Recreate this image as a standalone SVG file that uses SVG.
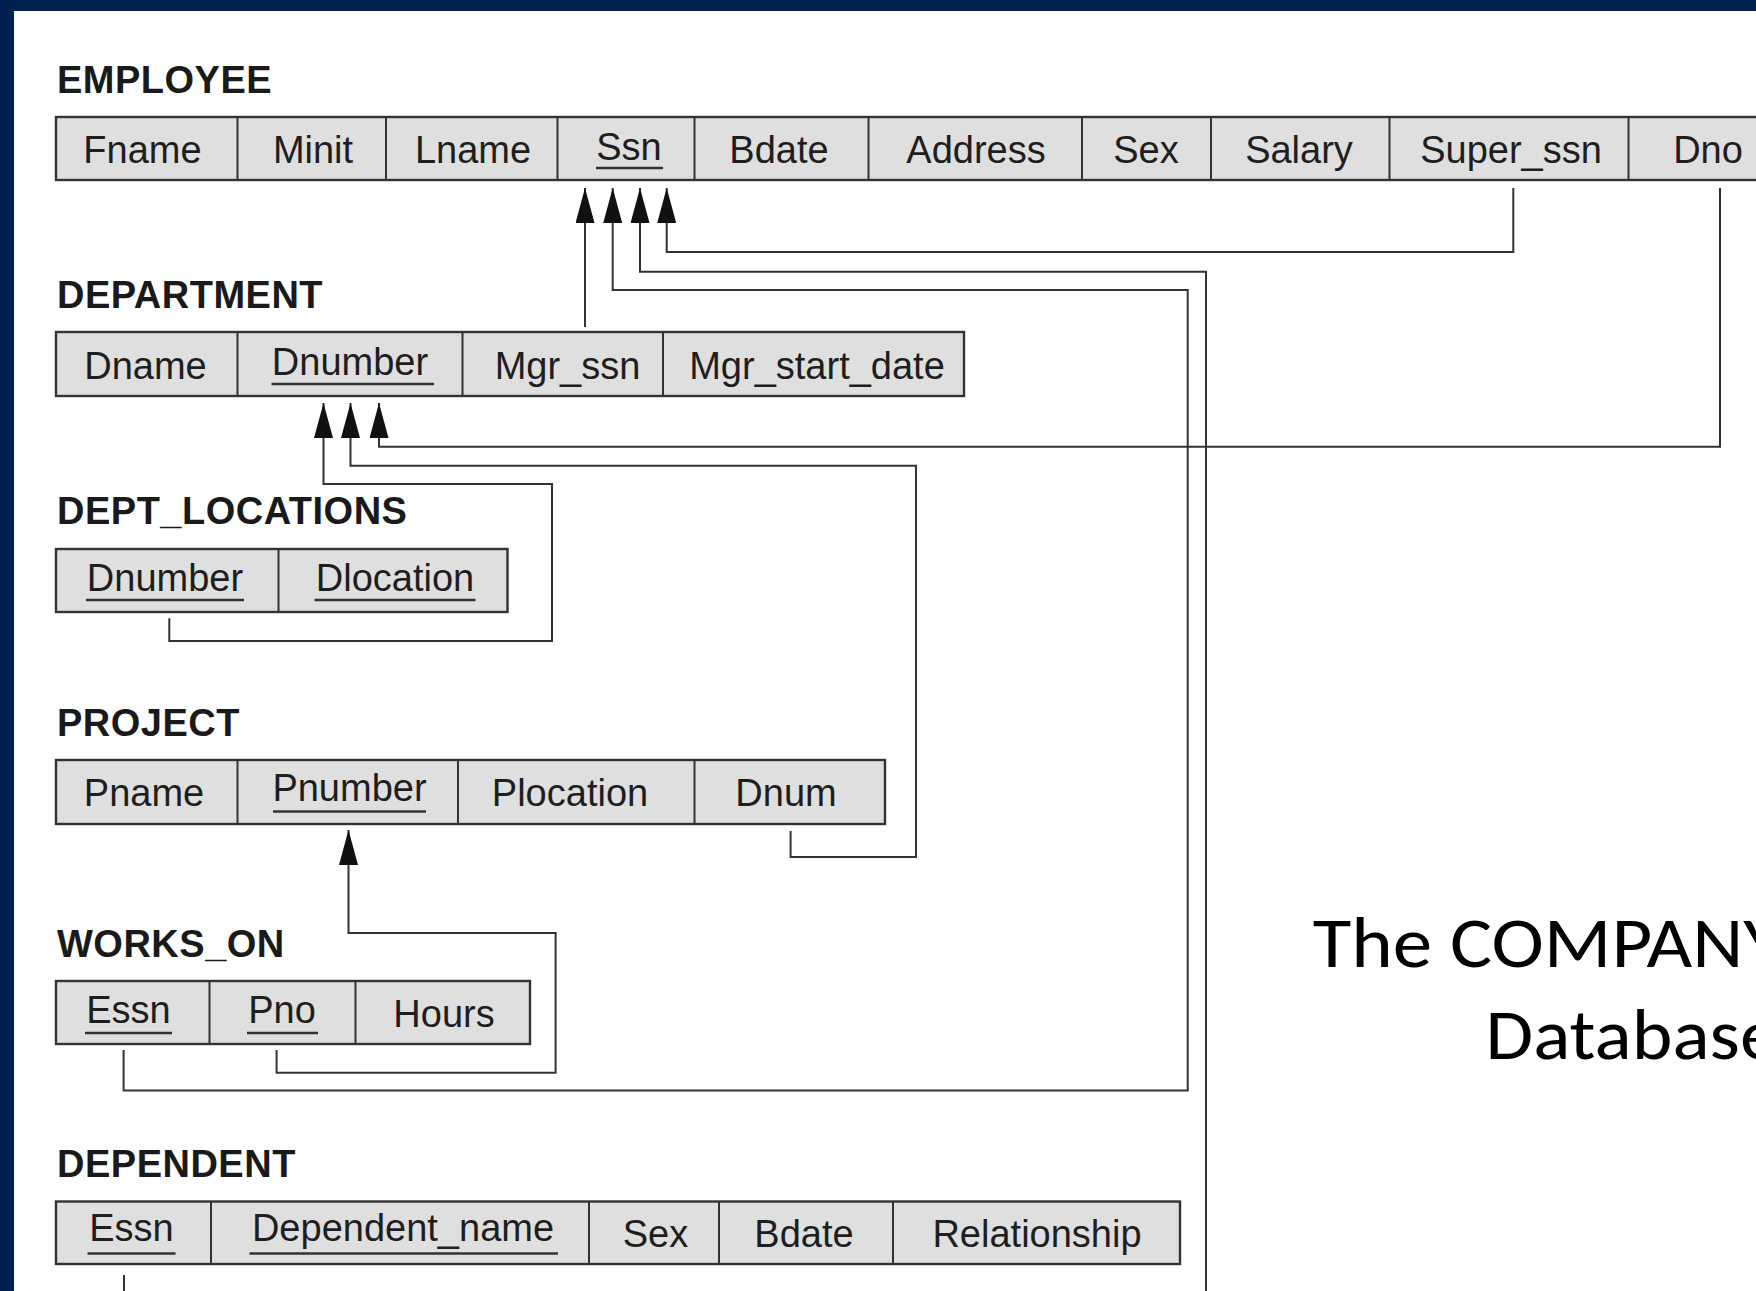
<svg xmlns="http://www.w3.org/2000/svg" width="1756" height="1291" viewBox="0 0 1756 1291">
<style>
.lbl{font-family:"Liberation Sans",Arial,sans-serif;font-weight:bold;font-size:38px;letter-spacing:0.5px;fill:#1a1a1a}
.att{font-family:"Liberation Sans",Arial,sans-serif;font-size:38px;fill:#1e1e1e;text-anchor:middle}
.tbl{fill:#dfdfdf;stroke:#333;stroke-width:2.4}
.div{stroke:#333;stroke-width:2}
.ul{stroke:#333;stroke-width:2.4}
.con{fill:none;stroke:#333;stroke-width:2}
.title{font-family:Calibri,Carlito,"Open Sans",sans-serif;font-size:72px;fill:#000}
</style>
<defs>
<marker id="ah" markerUnits="userSpaceOnUse" viewBox="0 0 35 19" markerWidth="35" markerHeight="19" refX="35" refY="9.5" orient="auto">
<path d="M0,0 L35,9.5 L0,19 Z" fill="#111"/>
</marker>
</defs>
<rect x="0" y="0" width="1756" height="1291" fill="#01204f"/>
<rect x="14" y="11" width="1742" height="1280" fill="#ffffff"/>

<g id="employee">
<text class="lbl" x="57" y="93">EMPLOYEE</text>
<rect class="tbl" x="56" y="117" width="1760" height="63"/>
<line class="div" x1="237.5" y1="117" x2="237.5" y2="180"/>
<line class="div" x1="386" y1="117" x2="386" y2="180"/>
<line class="div" x1="557.5" y1="117" x2="557.5" y2="180"/>
<line class="div" x1="694.5" y1="117" x2="694.5" y2="180"/>
<line class="div" x1="868.5" y1="117" x2="868.5" y2="180"/>
<line class="div" x1="1082" y1="117" x2="1082" y2="180"/>
<line class="div" x1="1211" y1="117" x2="1211" y2="180"/>
<line class="div" x1="1389.5" y1="117" x2="1389.5" y2="180"/>
<line class="div" x1="1628.5" y1="117" x2="1628.5" y2="180"/>
<text class="att" x="142.5" y="163">Fname</text>
<text class="att" x="313" y="163">Minit</text>
<text class="att" x="473" y="163">Lname</text>
<text class="att" x="629" y="160">Ssn</text>
<line class="ul" x1="596" y1="168" x2="663" y2="168"/>
<text class="att" x="779" y="163">Bdate</text>
<text class="att" x="976" y="163">Address</text>
<text class="att" x="1146" y="163">Sex</text>
<text class="att" x="1299" y="163">Salary</text>
<text class="att" x="1511" y="163">Super_ssn</text>
<text class="att" x="1708" y="163">Dno</text>
</g>

<g id="department">
<text class="lbl" x="57" y="308">DEPARTMENT</text>
<rect class="tbl" x="56" y="332" width="908" height="64"/>
<line class="div" x1="237.5" y1="332" x2="237.5" y2="396"/>
<line class="div" x1="462.5" y1="332" x2="462.5" y2="396"/>
<line class="div" x1="663" y1="332" x2="663" y2="396"/>
<text class="att" x="145.5" y="379">Dname</text>
<text class="att" x="350" y="375">Dnumber</text>
<line class="ul" x1="271.5" y1="384" x2="434" y2="384"/>
<text class="att" x="567.5" y="379">Mgr_ssn</text>
<text class="att" x="817" y="379">Mgr_start_date</text>
</g>

<g id="dept_locations">
<text class="lbl" x="57" y="524">DEPT_LOCATIONS</text>
<rect class="tbl" x="56" y="549" width="451.5" height="63"/>
<line class="div" x1="278.5" y1="549" x2="278.5" y2="612"/>
<text class="att" x="165" y="591">Dnumber</text>
<line class="ul" x1="86" y1="600" x2="244" y2="600"/>
<text class="att" x="395" y="591">Dlocation</text>
<line class="ul" x1="314.5" y1="600" x2="475.5" y2="600"/>
</g>

<g id="project">
<text class="lbl" x="57" y="736">PROJECT</text>
<rect class="tbl" x="56" y="760" width="829" height="64"/>
<line class="div" x1="237.5" y1="760" x2="237.5" y2="824"/>
<line class="div" x1="458" y1="760" x2="458" y2="824"/>
<line class="div" x1="694.5" y1="760" x2="694.5" y2="824"/>
<text class="att" x="144" y="806">Pname</text>
<text class="att" x="349.5" y="801">Pnumber</text>
<line class="ul" x1="273" y1="811.5" x2="426" y2="811.5"/>
<text class="att" x="570" y="806">Plocation</text>
<text class="att" x="786" y="806">Dnum</text>
</g>

<g id="works_on">
<text class="lbl" x="57" y="957">WORKS_ON</text>
<rect class="tbl" x="56" y="981" width="474" height="63"/>
<line class="div" x1="209.5" y1="981" x2="209.5" y2="1044"/>
<line class="div" x1="355.5" y1="981" x2="355.5" y2="1044"/>
<text class="att" x="128.5" y="1023">Essn</text>
<line class="ul" x1="85" y1="1033" x2="172" y2="1033"/>
<text class="att" x="282" y="1023">Pno</text>
<line class="ul" x1="247" y1="1033" x2="318" y2="1033"/>
<text class="att" x="444" y="1027">Hours</text>
</g>

<g id="dependent">
<text class="lbl" x="57" y="1177">DEPENDENT</text>
<rect class="tbl" x="56" y="1201.5" width="1124" height="62.5"/>
<line class="div" x1="211" y1="1201.5" x2="211" y2="1264"/>
<line class="div" x1="589" y1="1201.5" x2="589" y2="1264"/>
<line class="div" x1="719" y1="1201.5" x2="719" y2="1264"/>
<line class="div" x1="893" y1="1201.5" x2="893" y2="1264"/>
<text class="att" x="131.5" y="1241">Essn</text>
<line class="ul" x1="87.5" y1="1253.5" x2="175.5" y2="1253.5"/>
<text class="att" x="403" y="1241">Dependent_name</text>
<line class="ul" x1="249.5" y1="1253.5" x2="558" y2="1253.5"/>
<text class="att" x="655.5" y="1247">Sex</text>
<text class="att" x="804" y="1247">Bdate</text>
<text class="att" x="1037" y="1247">Relationship</text>
</g>

<g id="connectors">
<path class="con" d="M585,327 V188" marker-end="url(#ah)"/>
<path class="con" d="M123.6,1050 V1090.5 H1187.7 V290 H612.7 V188" marker-end="url(#ah)"/>
<path class="con" d="M1206,1300 V271.7 H640 V188" marker-end="url(#ah)"/>
<path class="con" d="M124,1275 V1300"/>
<path class="con" d="M1513.3,188 V252 H666.7 V188" marker-end="url(#ah)"/>
<path class="con" d="M169.3,618.3 V641 H552 V484 H323.5 V403" marker-end="url(#ah)"/>
<path class="con" d="M790.6,831 V857 H916 V465.7 H350.5 V403" marker-end="url(#ah)"/>
<path class="con" d="M1720,188 V446.7 H379 V403" marker-end="url(#ah)"/>
<path class="con" d="M276.6,1050 V1072.7 H555.6 V933 H348.5 V830" marker-end="url(#ah)"/>
</g>

<g id="title">
<text class="title" x="1312.8" y="966.7" textLength="469" lengthAdjust="spacingAndGlyphs">The COMPANY</text>
<text class="title" x="1485.5" y="1059.3" textLength="293" lengthAdjust="spacingAndGlyphs">Database</text>
</g>
</svg>
